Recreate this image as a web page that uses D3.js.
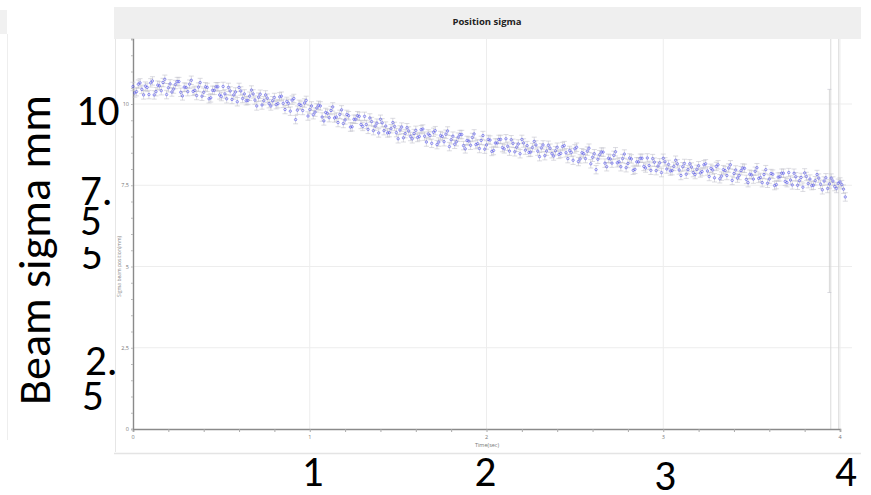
<!DOCTYPE html>
<html><head><meta charset="utf-8">
<script src="https://cdn.jsdelivr.net/npm/d3@7"></script>
<style>
html,body{margin:0;padding:0;background:#fff;}
svg{display:block;}
</style></head>
<body>
<svg id="chart" width="871" height="495"></svg>
<script>
// ---------- data ----------
const chartTitle = "Position sigma";
const xAxisTitle = "Time(sec)";
const yAxisTitle = "Sigma beam position(mm)";
const overlayYTitle = "Beam sigma mm";
const overlayYLabels = ["10", "7.", "5", "5", "2.", "5"];
const overlayXLabels = ["1", "2", "3", "4"];
const xTicks = [0, 1, 2, 3, 4];
const yTicks = [0, 2.5, 5, 7.5, 10];
const yTickLabels = ["0", "2,5", "5", "7,5", "10"];

const timesA = [
0.00,0.02,0.04,0.06,0.08,0.10,0.12,0.14,0.16,0.18,0.20,0.22,0.24,0.26,0.28,0.30,0.32,0.34,0.36,0.38,
0.40,0.42,0.44,0.46,0.48,0.50,0.52,0.54,0.56,0.58,0.60,0.62,0.64,0.66,0.68,0.70,0.72,0.74,0.76,0.78,
0.80,0.82,0.84,0.86,0.88,0.90,0.92,0.94,0.96,0.98,1.00,1.02,1.04,1.06,1.08,1.10,1.12,1.14,1.16,1.18,
1.20,1.22,1.24,1.26,1.28,1.30,1.32,1.34,1.36,1.38,1.40,1.42,1.44,1.46,1.48,1.50,1.52,1.54,1.56,1.58,
1.60,1.62,1.64,1.66,1.68,1.70,1.72,1.74,1.76,1.78,1.80,1.82,1.84,1.86,1.88,1.90,1.92,1.94,1.96,1.98,
2.00,2.02,2.04,2.06,2.08,2.10,2.12,2.14,2.16,2.18,2.20,2.22,2.24,2.26,2.28,2.30,2.32,2.34,2.36,2.38,
2.40,2.42,2.44,2.46,2.48,2.50,2.52,2.54,2.56,2.58,2.60,2.62,2.64,2.66,2.68,2.70,2.72,2.74,2.76,2.78,
2.80,2.82,2.84,2.86,2.88,2.90,2.92,2.94,2.96,2.98,3.00,3.02,3.04,3.06,3.08,3.10,3.12,3.14,3.16,3.18,
3.20,3.22,3.24,3.26,3.28,3.30,3.32,3.34,3.36,3.38,3.40,3.42,3.44,3.46,3.48,3.50,3.52,3.54,3.56,3.58,
3.60,3.62,3.64,3.66,3.68,3.70,3.72,3.74,3.76,3.78,3.80,3.82,3.84,3.86,3.88,3.90,3.92,3.94,3.96,3.98,
4.00,4.02,4.03
];
const sigmasA = [
10.54,10.38,10.65,10.28,10.51,10.65,10.28,10.58,10.41,10.76,10.50,10.37,10.60,10.69,10.25,10.51,10.61,10.39,10.26,10.66,
10.36,10.51,10.19,10.42,10.53,10.23,10.31,10.51,10.14,10.37,10.51,10.17,10.10,10.24,10.31,9.94,10.30,10.10,10.18,9.94,
10.20,10.01,10.24,9.83,10.02,10.12,9.52,9.99,9.80,10.11,9.83,9.67,9.88,9.94,9.48,9.71,9.80,9.57,9.43,9.82,
9.51,9.64,9.30,9.53,9.62,9.31,9.37,9.57,9.18,9.41,9.53,9.18,9.11,9.24,9.31,8.93,9.29,9.09,9.17,8.93,
9.19,9.00,9.23,8.83,9.03,9.13,8.75,9.03,8.84,9.17,8.90,8.76,8.98,9.06,8.62,8.86,8.97,8.75,8.63,9.03,
8.74,8.89,8.57,8.80,8.91,8.62,8.70,8.90,8.53,8.77,8.91,8.58,8.51,8.66,8.74,8.38,8.74,8.55,8.64,8.40,
8.67,8.48,8.72,8.32,8.51,8.62,8.23,8.50,8.32,8.64,8.36,7.98,8.44,8.52,8.07,8.31,8.42,8.19,8.07,8.46,
8.17,8.31,7.99,8.22,8.33,8.03,8.11,8.32,7.95,8.19,8.33,8.00,7.94,8.08,8.16,7.80,8.17,7.98,8.06,7.83,
8.10,7.92,8.16,7.77,7.97,8.08,7.70,7.98,7.80,8.13,7.86,7.72,7.95,8.02,7.58,7.82,7.93,7.71,7.58,7.98,
7.69,7.84,7.52,7.76,7.87,7.58,7.66,7.87,7.50,7.74,7.88,7.55,7.49,7.64,7.72,7.36,7.73,7.54,7.63,7.40,
7.60,7.38,7.14
];
const timesB = [
0.01,0.03,0.05,0.07,0.09,0.11,0.13,0.15,0.17,0.19,0.21,0.23,0.25,0.27,0.29,0.31,0.33,0.35,0.37,0.39,
0.41,0.43,0.45,0.47,0.49,0.51,0.53,0.55,0.57,0.59,0.61,0.63,0.65,0.67,0.69,0.71,0.73,0.75,0.77,0.79,
0.81,0.83,0.85,0.87,0.89,0.91,0.93,0.95,0.97,0.99,1.01,1.03,1.05,1.07,1.09,1.11,1.13,1.15,1.17,1.19,
1.21,1.23,1.25,1.27,1.29,1.31,1.33,1.35,1.37,1.39,1.41,1.43,1.45,1.47,1.49,1.51,1.53,1.55,1.57,1.59,
1.61,1.63,1.65,1.67,1.69,1.71,1.73,1.75,1.77,1.79,1.81,1.83,1.85,1.87,1.89,1.91,1.93,1.95,1.97,1.99,
2.01,2.03,2.05,2.07,2.09,2.11,2.13,2.15,2.17,2.19,2.21,2.23,2.25,2.27,2.29,2.31,2.33,2.35,2.37,2.39,
2.41,2.43,2.45,2.47,2.49,2.51,2.53,2.55,2.57,2.59,2.61,2.63,2.65,2.67,2.69,2.71,2.73,2.75,2.77,2.79,
2.81,2.83,2.85,2.87,2.89,2.91,2.93,2.95,2.97,2.99,3.01,3.03,3.05,3.07,3.09,3.11,3.13,3.15,3.17,3.19,
3.21,3.23,3.25,3.27,3.29,3.31,3.33,3.35,3.37,3.39,3.41,3.43,3.45,3.47,3.49,3.51,3.53,3.55,3.57,3.59,
3.61,3.63,3.65,3.67,3.69,3.71,3.73,3.75,3.77,3.79,3.81,3.83,3.85,3.87,3.89,3.91,3.93,3.95,3.97,3.99,
4.01
];
const sigmasB = [
10.34,10.61,10.45,10.55,10.29,10.71,10.38,10.56,10.66,10.29,10.62,10.46,10.69,10.36,10.52,10.38,10.73,10.42,10.52,10.24,
10.53,10.16,10.42,10.53,10.28,10.54,10.16,10.40,10.28,10.07,10.40,10.31,10.11,10.43,10.12,10.21,9.97,10.28,10.01,10.10,
9.98,10.22,10.02,10.08,9.78,10.17,9.81,9.96,10.03,9.63,9.94,9.75,9.96,9.60,9.74,9.58,9.91,9.60,9.68,9.40,
9.68,9.29,9.53,9.64,9.37,9.62,9.22,9.46,9.32,9.11,9.42,9.32,9.12,9.43,9.12,9.20,8.96,9.27,9.00,9.09,
8.97,9.21,9.01,9.08,8.79,9.18,8.83,9.00,9.07,8.69,9.01,8.84,9.06,8.72,8.88,8.73,9.08,8.78,8.88,8.61,
8.91,8.54,8.80,8.91,8.66,8.93,8.55,8.79,8.67,8.47,8.80,8.72,8.52,8.85,8.55,8.65,8.41,8.73,8.47,8.56,
8.45,8.69,8.50,8.57,8.27,8.67,8.31,8.47,8.55,8.16,8.47,8.30,8.52,8.18,8.33,8.18,8.53,8.22,8.32,8.04,
8.34,7.96,8.22,8.33,8.08,8.34,7.96,8.21,8.09,7.89,8.22,8.14,7.95,8.27,7.97,8.07,7.84,8.16,7.89,7.99,
7.88,8.13,7.94,8.02,7.73,8.13,7.78,7.95,8.03,7.65,7.97,7.80,8.03,7.68,7.84,7.69,8.04,7.74,7.83,7.56,
7.86,7.49,7.75,7.87,7.62,7.89,7.51,7.76,7.64,7.44,7.77,7.69,7.50,7.83,7.53,7.63,7.40,7.72,7.46,7.56,
7.52
];
const sigmaError = 0.13;
// one point with a very wide error bar near the end
const wideErrTime = [3.94];
const wideErrLow = [4.2];
const wideErrHigh = [10.45];
// cursor lines at the end of the record
const cursorTimes = [3.945, 3.99];

// ---------- drawing ----------
const svg = d3.select("#chart");
const x = d3.scaleLinear().domain([0, 4]).range([133, 840]);
const y = d3.scaleLinear().domain([0, 12]).range([429, 39]);
const plotRight = 852;
const small = "'Open Sans', sans-serif";

// faint neighbouring panel on the left
svg.append("rect").attr("x", 0).attr("y", 10).attr("width", 7).attr("height", 24).attr("fill", "#f1f1f1");
svg.append("line").attr("x1", 7.5).attr("x2", 7.5).attr("y1", 34).attr("y2", 440).attr("stroke", "#eeeeee");

// title band
svg.append("rect").attr("x", 114).attr("y", 7).attr("width", 747).attr("height", 32).attr("fill", "#efefef");
svg.append("text").attr("x", 487).attr("y", 24.5).attr("text-anchor", "middle")
  .attr("font-family", small).attr("font-weight", "bold").attr("font-size", 9.5)
  .attr("fill", "#222").text(chartTitle);

// panel frame
svg.append("line").attr("x1", 115.5).attr("x2", 115.5).attr("y1", 39).attr("y2", 452).attr("stroke", "#e6e6e6");
svg.append("line").attr("x1", 114).attr("x2", 861).attr("y1", 453.5).attr("y2", 453.5).attr("stroke", "#e4e4e4").attr("stroke-width", 1.5);

// grid
const g = svg.append("g");
g.selectAll(".vg").data(xTicks.slice(1)).enter().append("line")
  .attr("x1", d => x(d)).attr("x2", d => x(d)).attr("y1", y(12)).attr("y2", y(0))
  .attr("stroke", "#ededed").attr("stroke-width", 1);
g.selectAll(".hg").data(yTicks.slice(1)).enter().append("line")
  .attr("x1", x(0)).attr("x2", plotRight).attr("y1", d => y(d)).attr("y2", d => y(d))
  .attr("stroke", "#ededed").attr("stroke-width", 1);

// cursor lines
g.selectAll(".cur").data(cursorTimes).enter().append("line")
  .attr("x1", d => x(d) + 0.5).attr("x2", d => x(d) + 0.5).attr("y1", y(12)).attr("y2", y(0))
  .attr("stroke", "#dadada").attr("stroke-width", 1);

// axes
const axisColor = "#8a8a8a";
const xAxis = d3.axisBottom(x).tickValues(d3.range(0, 4.01, 0.2)).tickSize(3).tickFormat("");
const xa = svg.append("g").attr("transform", `translate(0,${y(0)})`).call(xAxis);
xa.select(".domain").attr("stroke", axisColor).attr("stroke-width", 1.6);
xa.selectAll(".tick line").attr("stroke", "#aaa");
svg.selectAll(".xl").data(xTicks).enter().append("text")
  .attr("x", d => x(d)).attr("y", y(0) + 10).attr("text-anchor", "middle")
  .attr("font-family", small).attr("font-size", 5.5).attr("fill", "#777").text(d => d);
svg.append("text").attr("x", 487).attr("y", 447).attr("text-anchor", "middle")
  .attr("font-family", small).attr("font-size", 5.5).attr("fill", "#777").text(xAxisTitle);

const yAxis = d3.axisLeft(y).tickValues(d3.range(0, 12.01, 0.5)).tickSize(2).tickFormat("");
const ya = svg.append("g").attr("transform", `translate(${x(0)},0)`).call(yAxis);
ya.select(".domain").attr("stroke", axisColor).attr("stroke-width", 1.4);
ya.selectAll(".tick line").attr("stroke", "#bbb");
svg.selectAll(".yl").data(yTicks).enter().append("text")
  .attr("x", x(0) - 4).attr("y", d => y(d) + 2).attr("text-anchor", "end")
  .attr("font-family", small).attr("font-size", 5.5).attr("fill", "#777")
  .text((d, i) => yTickLabels[i]);
svg.append("text").attr("transform", `translate(121,${y(5)}) rotate(-90)`).attr("text-anchor", "middle")
  .attr("font-family", small).attr("font-size", 5).attr("fill", "#888").text(yAxisTitle);

// data
const pts = timesA.map((t, i) => ({t, v: sigmasA[i]}))
  .concat(timesB.map((t, i) => ({t, v: sigmasB[i]})));
const eb = svg.append("g").attr("stroke", "#c3c3cc").attr("stroke-width", 0.6).attr("fill", "none");
pts.forEach(p => {
  const x0 = x(p.t), y1 = y(p.v + sigmaError), y2 = y(p.v - sigmaError);
  eb.append("line").attr("x1", x0).attr("x2", x0).attr("y1", y1).attr("y2", y2);
  eb.append("line").attr("x1", x0 - 2.5).attr("x2", x0 + 2.5).attr("y1", y1).attr("y2", y1);
  eb.append("line").attr("x1", x0 - 2.5).attr("x2", x0 + 2.5).attr("y1", y2).attr("y2", y2);
});
wideErrTime.forEach((t, i) => {
  const x0 = x(t);
  eb.append("line").attr("x1", x0).attr("x2", x0).attr("y1", y(wideErrHigh[i])).attr("y2", y(wideErrLow[i])).attr("stroke", "#bdbdbd");
  eb.append("line").attr("x1", x0 - 2).attr("x2", x0 + 2).attr("y1", y(wideErrHigh[i])).attr("y2", y(wideErrHigh[i]));
  eb.append("line").attr("x1", x0 - 2).attr("x2", x0 + 2).attr("y1", y(wideErrLow[i])).attr("y2", y(wideErrLow[i]));
});
svg.append("g").selectAll("circle").data(pts).enter().append("circle")
  .attr("cx", d => x(d.t)).attr("cy", d => y(d.v)).attr("r", 1.2)
  .attr("fill", "none").attr("stroke", "#4646ee").attr("stroke-width", 0.65).attr("stroke-opacity", 0.85);

// overlay labels (large black text)
const big = "Carlito, Calibri, 'Open Sans', sans-serif";
svg.append("text").attr("transform", "translate(50,250) rotate(-90)").attr("text-anchor", "middle")
  .attr("font-family", big).attr("font-size", 46).attr("fill", "#000").text(overlayYTitle);

const defs = svg.append("defs");
defs.append("clipPath").attr("id", "clip5").append("rect").attr("x", 60).attr("y", 247).attr("width", 60).attr("height", 40);
const ylPos = [[76,125],[80,205],[80,235],[81,269],[85,375],[82,410]];
overlayYLabels.forEach((s, i) => {
  const t = svg.append("text").attr("x", ylPos[i][0]).attr("y", ylPos[i][1])
    .attr("font-family", big).attr("font-size", 43).attr("fill", "#000").text(s);
  if (i === 3) t.attr("clip-path", "url(#clip5)");
});
const xlOff = [3, -1, 2, 6];
const xlBase = [486, 486, 490, 486];
overlayXLabels.forEach((s, i) => {
  svg.append("text").attr("x", x(+s) + xlOff[i]).attr("y", xlBase[i]).attr("text-anchor", "middle")
    .attr("font-family", big).attr("font-size", 43).attr("fill", "#000").text(s);
});
</script>
</body></html>
